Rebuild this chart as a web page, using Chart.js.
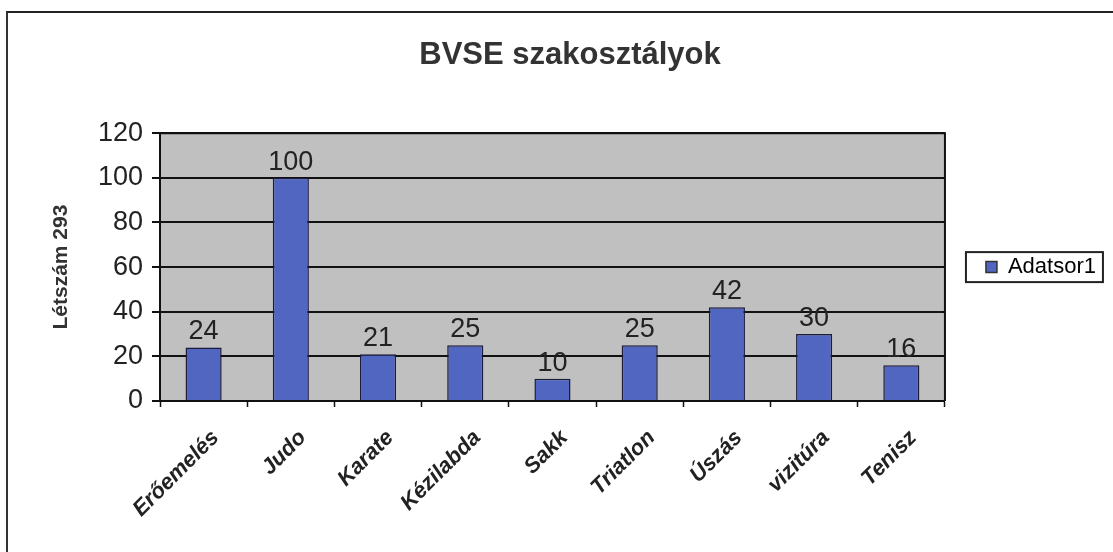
<!DOCTYPE html>
<html>
<head>
<meta charset="utf-8">
<title>BVSE szakosztályok</title>
<script src="https://cdn.jsdelivr.net/npm/chart.js@4/dist/chart.umd.min.js"></script>
<style>
  html, body { margin: 0; padding: 0; background: #fff; }
  #wrap { position: relative; width: 1113px; height: 552px; overflow: hidden; }
  #frame {
    position: absolute; left: 6px; top: 11px; width: 1120px; height: 560px;
    border-top: 2px solid #222; border-left: 2px solid #333; pointer-events: none;
  }
</style>
</head>
<body>
<div id="wrap">
  <canvas id="chart" width="1113" height="552"></canvas>
  <div id="frame"></div>
</div>
<script>
'use strict';

var categories = ['Erőemelés', 'Judo', 'Karate', 'Kézilabda', 'Sakk', 'Triatlon', 'Úszás', 'vizitúra', 'Tenisz'];
var letszam = [24, 100, 21, 25, 10, 25, 42, 30, 16];
var seriesName = 'Adatsor1';
var chartTitle = 'BVSE szakosztályok';
var yTitle = 'Létszám 293';

var FONT = "'Liberation Sans', Arial, Helvetica, sans-serif";
var LEGEND_PAD = 30;
var LEGEND_SHIFT = 11;

// gray plot background + frame on top/right, like the old excel chart
var plotArea = {
    id: 'plotArea',
    beforeDraw: function (chart) {
        var a = chart.chartArea, ctx = chart.ctx;
        ctx.save();
        ctx.fillStyle = '#c0c0c0';
        ctx.fillRect(a.left, a.top, a.right - a.left, a.bottom - a.top);
        ctx.restore();
    },
    afterDraw: function (chart) {
        var a = chart.chartArea, ctx = chart.ctx;
        ctx.save();
        ctx.strokeStyle = '#111';
        ctx.lineWidth = 2;
        ctx.beginPath();
        ctx.moveTo(a.left, a.top);
        ctx.lineTo(a.right, a.top);
        ctx.lineTo(a.right, a.bottom);
        ctx.stroke();
        ctx.restore();
    }
};

// value above every bar
var valueLabels = {
    id: 'valueLabels',
    afterDatasetsDraw: function (chart) {
        var ctx = chart.ctx;
        var meta = chart.getDatasetMeta(0);
        ctx.save();
        ctx.font = '27px ' + FONT;
        ctx.fillStyle = '#222';
        ctx.textAlign = 'center';
        ctx.textBaseline = 'bottom';
        meta.data.forEach(function (bar, i) {
            ctx.fillText(String(chart.data.datasets[0].data[i]), bar.x, bar.y - 2);
        });
        ctx.restore();
    }
};

// move the legend a bit to the right and put a box around it
var legendBox = {
    id: 'legendBox',
    afterLayout: function (chart) {
        var lg = chart.legend;
        if (!lg) return;
        lg.left += LEGEND_SHIFT;
        lg.right += LEGEND_SHIFT;
    },
    afterDraw: function (chart) {
        var lg = chart.legend, a = chart.chartArea, ctx = chart.ctx;
        if (!lg) return;
        var cy = (a.top + a.bottom) / 2;
        var x0 = lg.left + LEGEND_PAD - 20;
        ctx.save();
        ctx.strokeStyle = '#222';
        ctx.lineWidth = 2;
        ctx.strokeRect(x0, cy - 15, 137, 30);
        ctx.restore();
    }
};

var ctx = document.getElementById('chart').getContext('2d');

new Chart(ctx, {
    type: 'bar',
    data: {
        labels: categories,
        datasets: [{
            label: seriesName,
            data: letszam,
            backgroundColor: '#5066c0',
            borderColor: '#1b1b3a',
            borderWidth: 1.5,
            categoryPercentage: 0.46,
            barPercentage: 0.9
        }]
    },
    options: {
        responsive: false,
        animation: false,
        devicePixelRatio: 1,
        layout: { padding: { left: 45, right: 18, top: 0, bottom: 0 } },
        plugins: {
            title: {
                display: true,
                text: chartTitle,
                color: '#333',
                font: { family: FONT, size: 31, weight: 'bold', lineHeight: 1.2 },
                padding: { top: 37, bottom: 59 }
            },
            legend: {
                display: true,
                position: 'right',
                fullSize: false,
                labels: {
                    boxWidth: 11,
                    boxHeight: 11,
                    padding: LEGEND_PAD,
                    color: '#222',
                    font: { family: FONT, size: 22 },
                    generateLabels: function (chart) {
                        return [{
                            text: seriesName,
                            fillStyle: '#5066c0',
                            strokeStyle: '#333',
                            lineWidth: 1.5,
                            datasetIndex: 0
                        }];
                    }
                }
            },
            tooltip: { enabled: false }
        },
        scales: {
            x: {
                offset: true,
                afterFit: function (scale) { scale.height = 151; },
                grid: {
                    display: true,
                    offset: true,
                    drawOnChartArea: false,
                    drawTicks: true,
                    tickLength: 6,
                    tickColor: '#111',
                    tickWidth: 1.5
                },
                border: { display: true, color: '#111', width: 2 },
                ticks: {
                    maxRotation: 45,
                    minRotation: 45,
                    autoSkip: false,
                    labelOffset: 12,
                    padding: 18,
                    color: '#222',
                    font: { family: FONT, size: 22, weight: 'bold', style: 'italic' }
                }
            },
            y: {
                min: 0,
                max: 120,
                afterFit: function (scale) { scale.width = 115; },
                grid: {
                    color: '#111',
                    lineWidth: 2,
                    drawTicks: true,
                    tickLength: 8,
                    tickColor: '#111'
                },
                border: { display: true, color: '#111', width: 2 },
                ticks: {
                    stepSize: 20,
                    padding: 9,
                    color: '#222',
                    font: { family: FONT, size: 27 }
                },
                title: {
                    display: true,
                    text: yTitle,
                    color: '#333',
                    font: { family: FONT, size: 21, weight: 'bold', lineHeight: 1.2 },
                    padding: { top: 4, bottom: 10 }
                }
            }
        }
    },
    plugins: [plotArea, valueLabels, legendBox]
});
</script>
</body>
</html>
